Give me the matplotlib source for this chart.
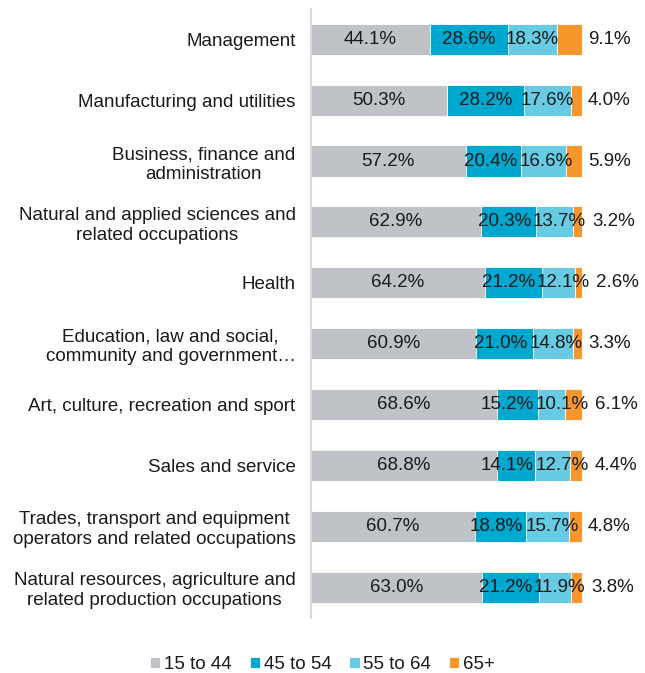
import numpy as np
import matplotlib
matplotlib.use("Agg")
import matplotlib.pyplot as plt

plt.rcParams['font.family'] = ['Liberation Sans', 'DejaVu Sans']

categories = [
    "Management",
    "Manufacturing and utilities",
    "Business, finance and\nadministration",
    "Natural and applied sciences and\nrelated occupations",
    "Health",
    "Education, law and social,\ncommunity and government\u2026",
    "Art, culture, recreation and sport",
    "Sales and service",
    "Trades, transport and equipment\noperators and related occupations",
    "Natural resources, agriculture and\nrelated production occupations",
]
age_groups = ["15 to 44", "45 to 54", "55 to 64", "65+"]
age_15_44 = [44.1, 50.3, 57.2, 62.9, 64.2, 60.9, 68.6, 68.8, 60.7, 63.0]
age_45_54 = [28.6, 28.2, 20.4, 20.3, 21.2, 21.0, 15.2, 14.1, 18.8, 21.2]
age_55_64 = [18.3, 17.6, 16.6, 13.7, 12.1, 14.8, 10.1, 12.7, 15.7, 11.9]
age_65_up = [9.1, 4.0, 5.9, 3.2, 2.6, 3.3, 6.1, 4.4, 4.8, 3.8]

colors = ['#BFC2C6', '#00A8D0', '#66CBE3', '#F7962A']
txt = '#1a1a1a'
fs = 13.5

fig = plt.figure(figsize=(6.45, 6.73), dpi=100)
ax = fig.add_axes([0.482, 0.082, 0.420, 0.905])

y = np.arange(len(categories))
series = [age_15_44, age_45_54, age_55_64, age_65_up]
left = np.zeros(len(categories))
row_labels = [[] for _ in categories]
for i, (vals, name, c) in enumerate(zip(series, age_groups, colors)):
    vals = np.array(vals)
    ax.barh(y, vals, left=left, height=0.51, color=c, label=name,
            edgecolor='white', linewidth=0.6)
    for k, (yi, l, v) in enumerate(zip(y, left, vals)):
        if i < 3:
            t = ax.text(l + v / 2, yi, f"{v:.1f}%", ha='center', va='center',
                        fontsize=fs, color=txt)
        else:
            t = ax.text(l + v + 2.2, yi, f"{v:.1f}%", ha='left', va='center',
                        fontsize=fs, color=txt, clip_on=False)
        row_labels[k].append(t)
    left += vals

ax.set_xlim(0, 100)
ax.set_ylim(len(categories) - 0.5, -0.5)
ax.set_yticks(y)
ax.set_yticklabels(categories, fontsize=fs, color=txt, multialignment='center')
ax.tick_params(axis='y', length=0, pad=11)
ax.set_xticks([])
for s in ['top', 'right', 'bottom']:
    ax.spines[s].set_visible(False)
ax.spines['left'].set_color('#D9D9D9')
ax.spines['left'].set_linewidth(1.5)

fig.legend(loc='lower center', bbox_to_anchor=(0.5, -0.025), ncol=4, frameon=False,
           fontsize=fs, handlelength=0.55, handleheight=0.55, handletextpad=0.2,
           columnspacing=0.95, labelcolor=txt)

# push apart the inside labels of a row when they collide
fig.canvas.draw()
r = fig.canvas.get_renderer()
px_per_unit = ax.transData.transform((1, 0))[0] - ax.transData.transform((0, 0))[0]
gap = 2.0
for labs in row_labels:
    inside = labs[:3]
    for _ in range(10):
        moved = False
        for a, b in zip(inside[:-1], inside[1:]):
            ea = a.get_window_extent(r)
            eb = b.get_window_extent(r)
            ov = ea.x1 + gap - eb.x0
            if ov > 0.1:
                d = ov / 2 / px_per_unit
                a.set_x(a.get_position()[0] - d)
                b.set_x(b.get_position()[0] + d)
                moved = True
        if not moved:
            break
    # the outside 65+ label keeps clear of the last inside label
    e3 = inside[-1].get_window_extent(r)
    e4 = labs[3].get_window_extent(r)
    ov = e3.x1 + 6 - e4.x0
    if ov > 0:
        labs[3].set_x(labs[3].get_position()[0] + ov / px_per_unit)

fig.savefig("out.png", dpi=100)
